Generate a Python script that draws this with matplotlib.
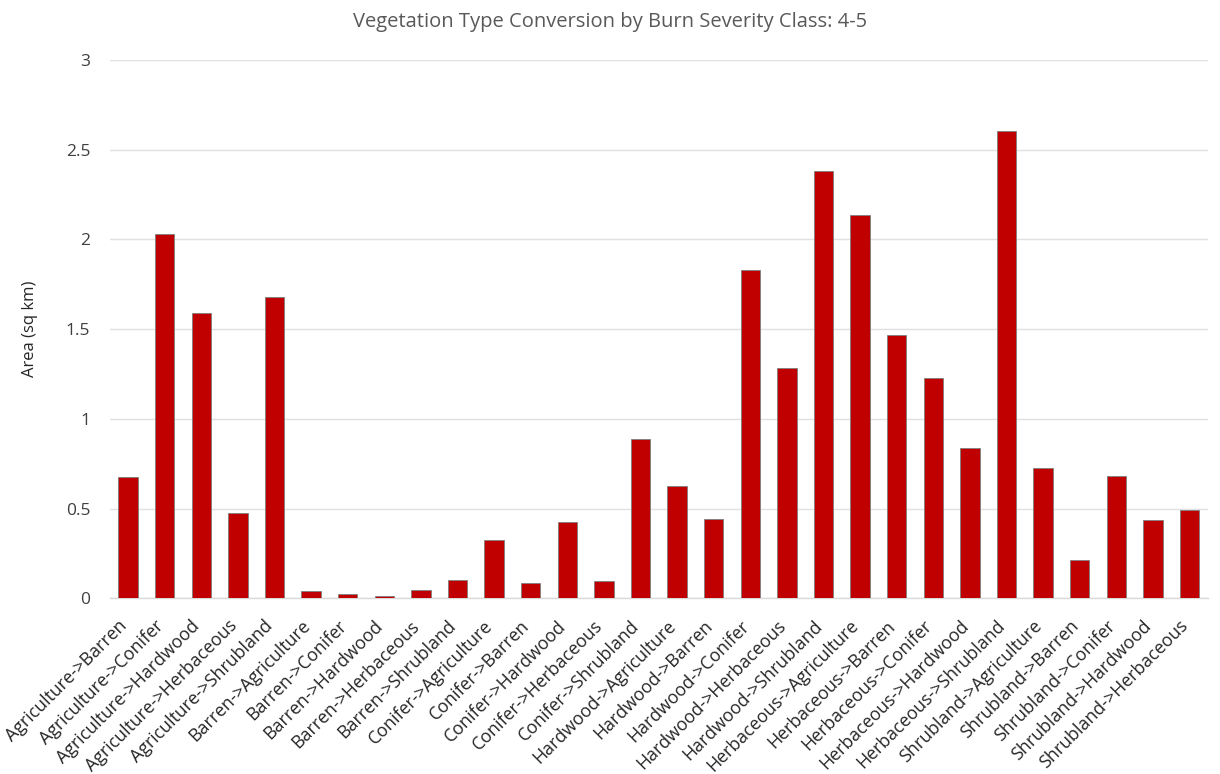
import matplotlib
matplotlib.use("Agg")
import matplotlib.pyplot as plt
from matplotlib.transforms import ScaledTranslation

categories = [
    "Agriculture->Barren", "Agriculture->Conifer", "Agriculture->Hardwood",
    "Agriculture->Herbaceous", "Agriculture->Shrubland", "Barren->Agriculture",
    "Barren->Conifer", "Barren->Hardwood", "Barren->Herbaceous",
    "Barren->Shrubland", "Conifer->Agriculture", "Conifer->Barren",
    "Conifer->Hardwood", "Conifer->Herbaceous", "Conifer->Shrubland",
    "Hardwood->Agriculture", "Hardwood->Barren", "Hardwood->Conifer",
    "Hardwood->Herbaceous", "Hardwood->Shrubland", "Herbaceous->Agriculture",
    "Herbaceous->Barren", "Herbaceous->Conifer", "Herbaceous->Hardwood",
    "Herbaceous->Shrubland", "Shrubland->Agriculture", "Shrubland->Barren",
    "Shrubland->Conifer", "Shrubland->Hardwood", "Shrubland->Herbaceous",
]
area_sq_km = [
    0.675, 2.03, 1.59, 0.474, 1.677, 0.039,
    0.024, 0.013, 0.046, 0.102, 0.324, 0.084,
    0.428, 0.097, 0.89, 0.625, 0.441, 1.828,
    1.283, 2.383, 2.136, 1.469, 1.225, 0.836,
    2.607, 0.726, 0.216, 0.683, 0.437, 0.49,
]
y_ticks = [0, 0.5, 1, 1.5, 2, 2.5, 3]
y_tick_labels = ["0", "0.5", "1", "1.5", "2", "2.5", "3"]

plt.rcParams["font.family"] = ["Open Sans", "DejaVu Sans"]

fig = plt.figure(figsize=(12.2, 7.74), dpi=100)
ax = fig.add_axes([0.09, 0.2270, 0.9, 0.6955])

x = range(len(categories))
ax.bar(x, area_sq_km, width=0.535, color="#C00000",
       edgecolor="#7f7f7f", linewidth=0.6, zorder=3)

ax.set_xlim(-0.5, len(categories) - 0.5)
ax.set_ylim(0, 3)
ax.set_yticks(y_ticks)
ax.set_yticklabels(y_tick_labels, fontsize=12.5, color="#404040")
ax.set_xticks(list(x))
ax.set_xticklabels(categories, rotation=45, ha="right", va="center",
                   rotation_mode="anchor", fontsize=12.8, color="#262626")
ax.tick_params(axis="x", length=0, pad=18)
ax.tick_params(axis="y", length=0, pad=14)

# nudge the slanted category labels slightly left of each bar centre
shift = ScaledTranslation(-4 / 100, 0, fig.dpi_scale_trans)
for lbl in ax.get_xticklabels():
    lbl.set_transform(lbl.get_transform() + shift)

ax.grid(axis="y", color="#e0e0e0", linewidth=1.0, zorder=0)
for side in ("top", "right", "left"):
    ax.spines[side].set_visible(False)
ax.spines["bottom"].set_color("#d9d9d9")
ax.spines["bottom"].set_linewidth(1.0)

ax.set_ylabel("Area (sq km)", fontsize=12, color="#262626", labelpad=20)
fig.text(0.5, 0.972, "Vegetation Type Conversion by Burn Severity Class: 4-5",
         ha="center", va="center", fontsize=14.5, color="#595959")

fig.savefig("out.png", dpi=100, facecolor="white")
